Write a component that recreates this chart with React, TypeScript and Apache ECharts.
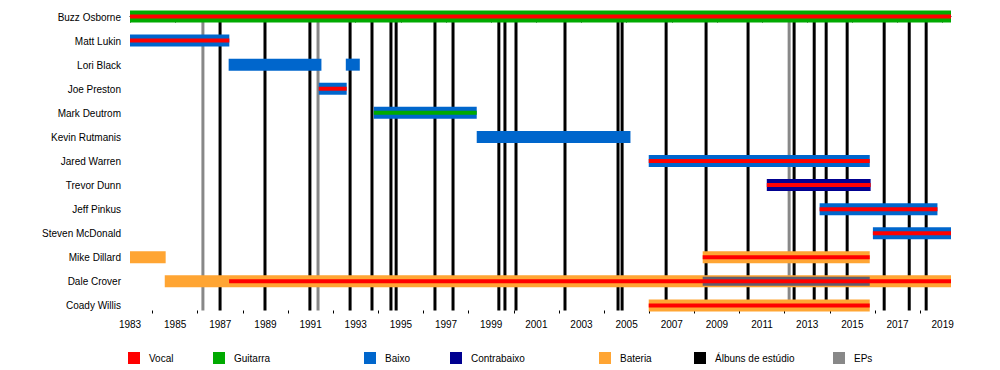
import React, { useEffect, useRef } from "react";
import * as echarts from "echarts";

const members = [
  "Buzz Osborne",
  "Matt Lukin",
  "Lori Black",
  "Joe Preston",
  "Mark Deutrom",
  "Kevin Rutmanis",
  "Jared Warren",
  "Trevor Dunn",
  "Jeff Pinkus",
  "Steven McDonald",
  "Mike Dillard",
  "Dale Crover",
  "Coady Willis",
];

// [member index, start, end, role]
const instrumentSpans: [number, number, number, string][] = [
  [0, 1983, 2019.37, "Guitarra"],
  [1, 1983, 1987.4, "Baixo"],
  [2, 1987.37, 1991.48, "Baixo"],
  [2, 1992.56, 1993.18, "Baixo"],
  [3, 1991.36, 1992.6, "Baixo"],
  [4, 1993.8, 1998.36, "Baixo"],
  [5, 1998.36, 2005.17, "Baixo"],
  [6, 2005.98, 2015.77, "Baixo"],
  [7, 2011.21, 2015.81, "Contrabaixo"],
  [8, 2013.55, 2018.77, "Baixo"],
  [9, 2015.91, 2019.37, "Baixo"],
  [10, 1983, 1984.58, "Bateria"],
  [10, 2008.37, 2015.77, "Bateria"],
  [11, 1984.54, 2019.37, "Bateria"],
  [12, 2005.98, 2015.77, "Bateria"],
];

// secondary (darker) band over Dale Crover's drums
const overlaySpans: [number, number, number, string][] = [
  [11, 2008.37, 2015.77, "Extra"],
];

const innerSpans: [number, number, number, string][] = [
  [0, 1983, 2019.37, "Vocal"],
  [1, 1983, 1987.4, "Vocal"],
  [3, 1991.36, 1992.6, "Vocal"],
  [4, 1993.8, 1998.36, "Guitarra"],
  [6, 2005.98, 2015.77, "Vocal"],
  [7, 2011.21, 2015.81, "Vocal"],
  [8, 2013.55, 2018.77, "Vocal"],
  [9, 2015.91, 2019.37, "Vocal"],
  [10, 2008.37, 2015.77, "Vocal"],
  [11, 1987.39, 2019.37, "Vocal"],
  [12, 2005.98, 2015.77, "Vocal"],
];

const studioAlbums = [
  1986.99, 1988.98, 1990.97, 1992.75, 1993.72, 1994.56, 1994.79, 1996.51,
  1997.31, 1999.34, 1999.61, 2000.1, 2002.27, 2004.62, 2004.8, 2006.75,
  2008.52, 2010.38, 2012.42, 2013.31, 2013.84, 2014.77, 2016.41, 2017.52,
  2018.27,
];

const eps = [1986.23, 1991.33, 2012.2];

const labelYears = [
  1983, 1985, 1987, 1989, 1991, 1993, 1995, 1997, 1999, 2001, 2003, 2005,
  2007, 2009, 2011, 2013, 2015, 2017, 2019,
];
const minorYears = [
  1984, 1986, 1988, 1990, 1992, 1994, 1996, 1998, 2000, 2002, 2004, 2006,
  2008, 2010, 2012, 2014, 2016, 2018,
];

const legendNames = [
  "Vocal",
  "Guitarra",
  "Baixo",
  "Contrabaixo",
  "Bateria",
  "Álbuns de estúdio",
  "EPs",
];

const X_MIN = 1983;
const X_MAX = 2019.37;
const Y_MIN = -0.27;
const Y_MAX = 12.21;

const roleColors: Record<string, string> = {
  Vocal: "#ff0000",
  Guitarra: "#00aa00",
  Baixo: "#0066cc",
  Contrabaixo: "#000090",
  Bateria: "#ffa533",
  "Álbuns de estúdio": "#000000",
  EPs: "#888888",
  Extra: "#5e5e6e",
};

const legendX = [128, 213, 364, 450, 599, 694, 833];

const FONT = '"Liberation Sans", Arial, Helvetica, sans-serif';

function spanSeries(spans: [number, number, number, string][], h: number, z: number) {
  return {
    type: "custom",
    z,
    clip: false,
    silent: true,
    data: spans.map((s) => [s[1], s[2], s[0]]),
    renderItem: (params: any, api: any) => {
      const s = spans[params.dataIndex];
      const p1 = api.coord([api.value(0), api.value(2)]);
      const p2 = api.coord([api.value(1), api.value(2)]);
      return {
        type: "rect",
        shape: { x: p1[0], y: p1[1] - h / 2, width: p2[0] - p1[0], height: h },
        style: { fill: roleColors[s[3]] },
      };
    },
  };
}

function lineSeries(years: number[], color: string, z: number) {
  return {
    type: "custom",
    z,
    clip: false,
    silent: true,
    data: years.map((y) => [y]),
    renderItem: (params: any, api: any) => {
      const top = api.coord([api.value(0), 0]);
      const bot = api.coord([api.value(0), Y_MAX]);
      return {
        type: "line",
        shape: { x1: top[0], y1: top[1], x2: bot[0], y2: bot[1] },
        style: { stroke: color, lineWidth: 3 },
      };
    },
  };
}

export default function App() {
  const ref = useRef<HTMLDivElement>(null);
  useEffect(() => {
    if (!ref.current) return;
    const chart = echarts.init(ref.current, undefined, { renderer: "svg" });
    const graphics: any[] = [];
    legendNames.forEach((name, i) => {
      graphics.push({
        type: "rect",
        left: legendX[i],
        top: 352,
        shape: { width: 12, height: 12 },
        style: { fill: roleColors[name] },
      });
      graphics.push({
        type: "text",
        x: legendX[i] + 21,
        y: 358.5,
        style: {
          text: name,
          fill: "#000",
          fontSize: 10,
          fontFamily: FONT,
          verticalAlign: "middle",
          align: "left",
        },
      });
    });
    chart.setOption({
      animation: false,
      grid: {
        left: 130,
        right: 49,
        top: 10,
        bottom: 59.5,
        containLabel: false,
        outerBoundsMode: "none",
      },
      xAxis: [
        {
          type: "value",
          min: X_MIN,
          max: X_MAX,
          position: "bottom",
          splitLine: { show: false },
          axisLine: { lineStyle: { color: "#000", width: 1 } },
          axisTick: {
            customValues: labelYears,
            length: 6,
            lineStyle: { color: "#000" },
          },
          axisLabel: {
            customValues: labelYears,
            formatter: (v: number) => String(v),
            color: "#000",
            fontSize: 10,
            fontFamily: FONT,
            margin: 9,
          },
        },
        {
          type: "value",
          min: X_MIN,
          max: X_MAX,
          position: "bottom",
          splitLine: { show: false },
          axisLine: { show: false },
          axisTick: {
            customValues: minorYears,
            length: 3,
            lineStyle: { color: "#000" },
          },
          axisLabel: { show: false },
        },
      ],
      yAxis: {
        type: "value",
        min: Y_MIN,
        max: Y_MAX,
        inverse: true,
        show: false,
      },
      series: [
        lineSeries(eps, roleColors["EPs"], 1),
        lineSeries(studioAlbums, roleColors["Álbuns de estúdio"], 1),
        spanSeries(instrumentSpans, 12, 2),
        spanSeries(overlaySpans, 9, 3),
        spanSeries(innerSpans, 4, 4),
        {
          type: "custom",
          z: 5,
          clip: false,
          silent: true,
          data: members.map((_, i) => [X_MIN, i]),
          renderItem: (params: any, api: any) => {
            const p = api.coord([api.value(0), api.value(1)]);
            return {
              type: "text",
              x: p[0] - 9,
              y: p[1] + 0.5,
              style: {
                text: members[params.dataIndex],
                fill: "#000",
                fontSize: 10,
                fontFamily: FONT,
                align: "right",
                verticalAlign: "middle",
              },
            };
          },
        },
      ],
      graphic: graphics,
    });
    return () => chart.dispose();
  }, []);
  return (
    <div
      ref={ref}
      style={{ position: "absolute", left: 0, top: 0, width: 1000, height: 370 }}
    />
  );
}
